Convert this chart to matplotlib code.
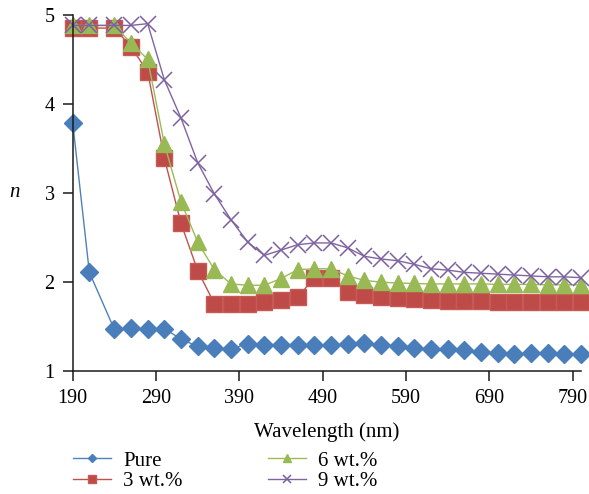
"""Refractive index n vs wavelength for pure and doped films."""

import matplotlib

matplotlib.use("Agg")
import matplotlib.pyplot as plt
from matplotlib.lines import Line2D

wavelength = [190, 210, 240, 260, 280, 300, 320, 340, 360, 380, 400, 420, 440, 460, 480, 500,
              520, 540, 560, 580, 600, 620, 640, 660, 680, 700, 720, 740, 760, 780, 800]

n_pure = [3.79, 2.11, 1.47, 1.49, 1.47, 1.48, 1.36, 1.28, 1.26, 1.25, 1.31, 1.30, 1.30, 1.30, 1.29, 1.29,
          1.31, 1.32, 1.30, 1.28, 1.26, 1.25, 1.25, 1.24, 1.22, 1.21, 1.19, 1.20, 1.20, 1.19, 1.19]
n_3wt = [4.85, 4.85, 4.85, 4.64, 4.36, 3.39, 2.66, 2.13, 1.76, 1.76, 1.76, 1.78, 1.80, 1.83, 2.05, 2.05,
         1.885, 1.855, 1.835, 1.82, 1.81, 1.80, 1.79, 1.79, 1.79, 1.78, 1.775, 1.775, 1.775, 1.775, 1.775]
n_6wt = [4.88, 4.88, 4.88, 4.68, 4.50, 3.55, 2.90, 2.45, 2.14, 1.98, 1.965, 1.965, 2.04, 2.14, 2.15, 2.15,
         2.07, 2.02, 2.00, 1.99, 1.985, 1.98, 1.98, 1.98, 1.98, 1.975, 1.975, 1.975, 1.97, 1.97, 1.97]
n_9wt = [4.88, 4.88, 4.88, 4.88, 4.90, 4.27, 3.84, 3.34, 2.99, 2.70, 2.45, 2.30, 2.36, 2.42, 2.44, 2.44,
         2.385, 2.29, 2.26, 2.24, 2.20, 2.15, 2.135, 2.11, 2.10, 2.09, 2.08, 2.07, 2.06, 2.06, 2.05]

labels = ["Pure", "3 wt.%", "6 wt.%", "9 wt.%"]
x_ticks = [190, 290, 390, 490, 590, 690, 790]
y_ticks = [1, 2, 3, 4, 5]

plt.rcParams["font.family"] = ["Liberation Serif", "DejaVu Serif"]

fig = plt.figure(figsize=(5.89, 4.94), dpi=100)
ax = fig.add_axes([0.1234, 0.2484, 0.8630, 0.7218])

styles = [
    dict(color="#4F81BD", marker="D", ms=8.8, mfc="#4A7EBB", mec="#4A7EBB"),
    dict(color="#C0504D", marker="s", ms=12, mfc="#BE4B48", mec="#C75A57"),
    dict(color="#9BBB59", marker="^", ms=12, mfc="#98B954", mec="#98B954"),
    dict(color="#8064A2", marker="x", ms=12, mfc="none", mec="#7D60A0", mew=1.1),
]
series = [n_pure, n_3wt, n_6wt, n_9wt]

for vals, st in zip(series, styles):
    ax.plot(wavelength, vals, lw=1.0, clip_on=False, **st)

ax.set_xlim(190, 800)
ax.set_ylim(1, 5)
ax.set_xticks(x_ticks)
ax.set_yticks(y_ticks)
for side in ["top", "right"]:
    ax.spines[side].set_visible(False)
for side in ["left", "bottom"]:
    ax.spines[side].set_linewidth(1.1)
    ax.spines[side].set_color("#1a1a1a")
ax.tick_params(direction="out", length=7, width=1.1, color="#1a1a1a", labelsize=14.5, pad=6)

ax.set_xlabel("Wavelength (nm)", fontsize=15, labelpad=10)
fig.text(0.024, 0.61, "n", fontsize=15, style="italic", ha="center", va="center")

handles = [
    Line2D([], [], lw=1.0, **{**st, "ms": st["ms"] * 0.5}) for st in styles
]
fig.legend(handles, labels, ncol=2, loc="upper left", bbox_to_anchor=(0.110, 0.104),
           frameon=False, fontsize=15, handlelength=1.8, columnspacing=4.1,
           handletextpad=0.6, labelspacing=0.05, borderaxespad=0)

fig.savefig("out.png", dpi=100)
